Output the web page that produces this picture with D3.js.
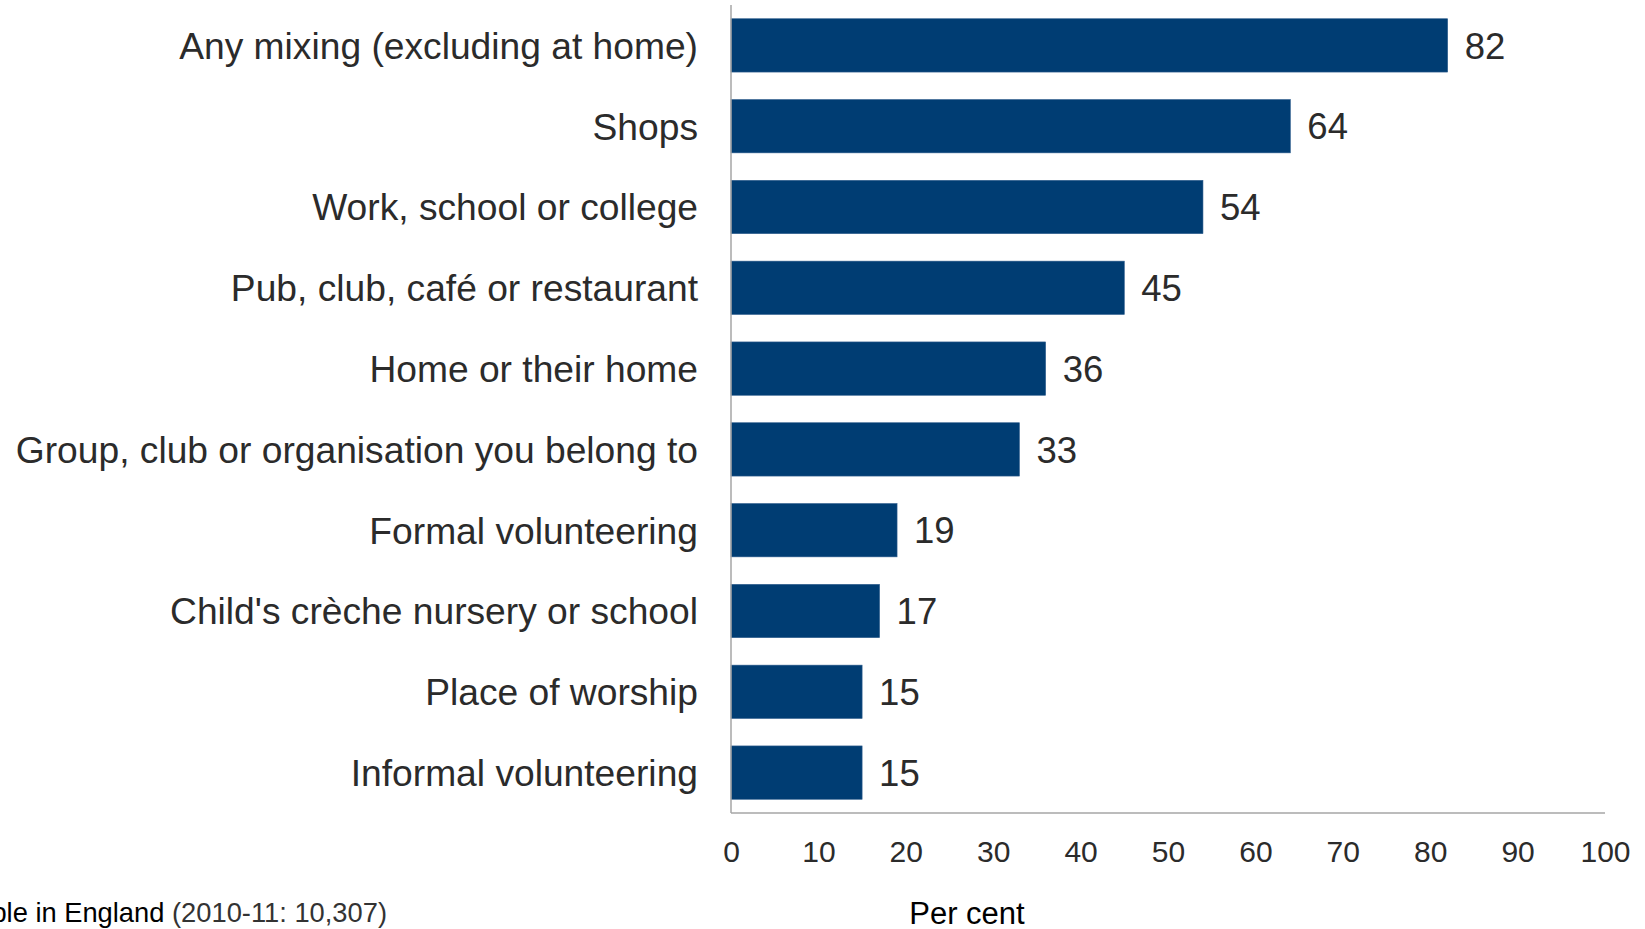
<!DOCTYPE html>
<html><head><meta charset="utf-8">
<script src="https://cdn.jsdelivr.net/npm/d3@7"></script>
<style>
html,body{margin:0;padding:0;background:#fff;overflow:hidden}
svg{display:block;font-family:"Liberation Sans",Arial,sans-serif}
</style></head>
<body>
<svg id="chart" width="1645" height="929"></svg>
<script>
const categories = [
  "Any mixing (excluding at home)",
  "Shops",
  "Work, school or college",
  "Pub, club, café or restaurant",
  "Home or their home",
  "Group, club or organisation you belong to",
  "Formal volunteering",
  "Child's crèche nursery or school",
  "Place of worship",
  "Informal volunteering"
];
const values = [82, 64, 54, 45, 36, 33, 19, 17, 15, 15];
const xTicks = [0, 10, 20, 30, 40, 50, 60, 70, 80, 90, 100];
const axisTitle = "Per cent";
const footPart1 = "Base: All people in England ";
const footPart2 = "(2010-11: 10,307)";

(function () {
const svg = d3.select("#chart");
const mLeft = 731, mRight = 1605, mTop = 5, mBottom = 813;

const x = d3.scaleLinear().domain([0, 100]).range([mLeft, mRight]);
const y = d3.scaleBand().domain(categories).range([mTop, mBottom]).paddingInner(0.34).paddingOuter(0.17);

// bars
svg.append("g").selectAll("rect").data(values).join("rect")
  .attr("x", x(0))
  .attr("y", (d, i) => y(categories[i]))
  .attr("width", d => x(d) - x(0))
  .attr("height", y.bandwidth())
  .attr("fill", "#003d73")
  .attr("stroke", "#2f5e8e")
  .attr("stroke-width", 0.6);

// value labels
svg.append("g").selectAll("text").data(values).join("text")
  .attr("x", d => x(d) + 17)
  .attr("y", (d, i) => y(categories[i]) + y.bandwidth() / 2)
  .attr("dy", "0.36em")
  .attr("font-size", 36.5)
  .attr("fill", "#2b2b2b")
  .text(d => d);

// y axis
const yAxis = d3.axisLeft(y).tickSize(0).tickPadding(33);
const gy = svg.append("g").attr("transform", `translate(${mLeft},0)`).call(yAxis);
gy.select(".domain").remove();
gy.selectAll("text").attr("font-size", 37.2).attr("fill", "#2b2b2b")
  .attr("font-family", "Liberation Sans, Arial, sans-serif").attr("dy", "0.36em");
svg.append("line").attr("x1", mLeft).attr("x2", mLeft).attr("y1", mTop).attr("y2", mBottom)
  .attr("stroke", "#a6a6a6").attr("stroke-width", 1.5);

// x axis
const xAxis = d3.axisBottom(x).tickValues(xTicks).tickSize(0).tickPadding(28).tickFormat(d3.format("d"));
const gx = svg.append("g").attr("transform", `translate(0,${mBottom})`).call(xAxis);
gx.select(".domain").remove();
gx.selectAll("text").attr("font-size", 30).attr("fill", "#2b2b2b")
  .attr("font-family", "Liberation Sans, Arial, sans-serif");
svg.append("line").attr("x1", mLeft).attr("x2", mRight).attr("y1", mBottom).attr("y2", mBottom)
  .attr("stroke", "#a6a6a6").attr("stroke-width", 1.5);

// axis title
svg.append("text").attr("x", 967).attr("y", 924).attr("text-anchor", "middle")
  .attr("font-size", 31).attr("fill", "#000").text(axisTitle);

// footnote
const foot = svg.append("text").attr("x", 387).attr("y", 922).attr("text-anchor", "end")
  .attr("font-size", 27.3);
foot.append("tspan").attr("fill", "#000").text(footPart1);
foot.append("tspan").attr("fill", "#333").text(footPart2);
})();
</script>
</body></html>
